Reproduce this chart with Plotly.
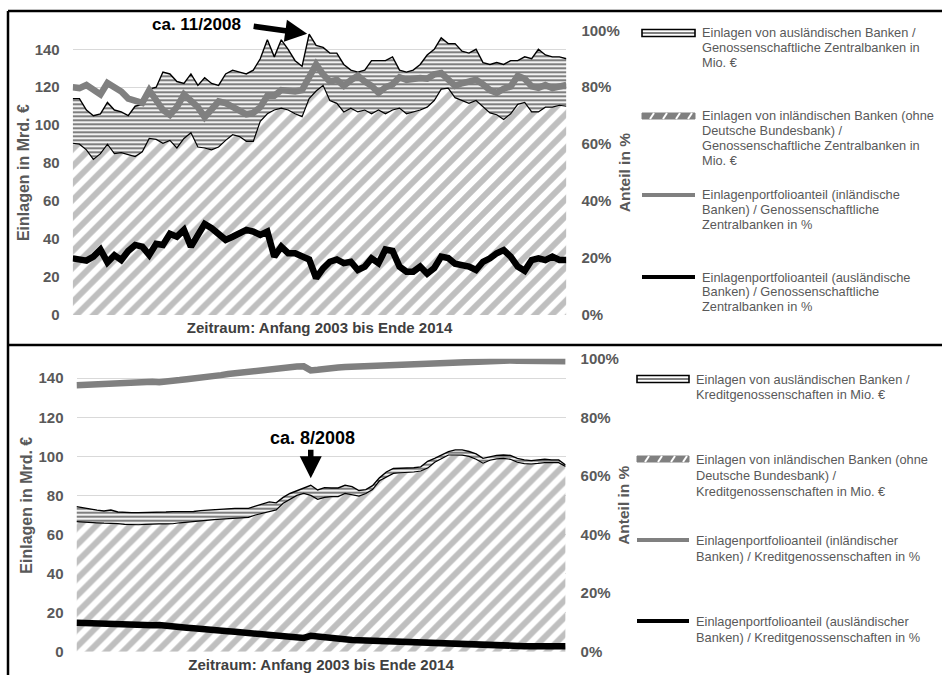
"""Einlagen Genossenschaftliche Zentralbanken / Kreditgenossenschaften, 2003-2014."""

import pandas as pd
import plotly.graph_objects as go

W, H = 942, 675
FONT = "Liberation Sans, Arial, sans-serif"
GREY_TXT = "#595959"
GREY_LINE = "#808080"

# bimonthly grid, Anfang 2003 bis Ende 2014
months = pd.date_range("2003-01-01", periods=72, freq="2MS")

# --- Genossenschaftliche Zentralbanken (Mrd. € / %) ---
gz_inland = [90.5, 90, 87, 82, 85, 90, 85, 85.5, 84.5, 83.5,
             86, 93, 92.5, 90.5, 92, 88, 93, 96, 88.5, 88,
             87, 88.5, 92, 95, 94, 91.5, 91.5, 102, 106, 108,
             109, 108, 106, 104.5, 114, 118, 121, 113, 111.5, 107,
             109, 107, 108, 106, 108, 106, 108, 109, 106, 107,
             108, 109.5, 113, 119, 119.5, 114.5, 113, 111.5, 113, 109.5,
             106.5, 105.5, 103, 106, 111, 112, 107, 107, 109.5, 109.5,
             110.5, 110]
gz_ausland = [23.5, 24, 21, 23, 21, 22, 23, 21.5, 20.5, 26.5,
              25, 26, 27.5, 37.5, 35, 35, 29, 31, 32.5, 37,
              35, 32.5, 35, 34, 34, 35.5, 37.5, 33, 39, 28,
              36, 32, 28, 26.5, 34, 24, 20, 25, 26.5, 25,
              20, 21, 21, 28, 26, 28, 28, 20, 22, 22,
              24, 27.5, 27, 27, 23.5, 28.5, 26, 26.5, 27, 23.5,
              25.5, 27.5, 29, 28, 23, 24, 28, 33, 27.5, 26.5,
              25.5, 25]
gz_anteil_inland = [80, 79.7, 80.8, 79, 77.5, 81.5, 80, 78.5, 76, 75,
                    74.5, 79, 75, 72, 70.3, 73, 77.5, 75, 73, 69.5,
                    72, 75, 74.4, 73, 72, 70.5, 71, 73, 77, 77,
                    79, 78.5, 78.5, 79, 84, 88, 84.5, 82, 82.6, 80.5,
                    82.5, 84, 82, 80.5, 78, 80, 81, 83.5, 82.6, 83,
                    83.2, 83, 84.5, 85, 83, 80.5, 81.4, 82, 82.6, 81,
                    79, 78, 79.5, 80.3, 84, 83, 80.3, 79.8, 80.8, 79.7,
                    80.3, 80.8]
gz_anteil_ausland = [19.9, 19.6, 19.1, 20.5, 23, 18.5, 21, 19.3, 22.5, 24.6,
                     24, 21.1, 25, 24.6, 28.5, 27.5, 29.9, 24, 28, 32,
                     30.5, 28.1, 26.4, 27.5, 28.7, 29.9, 29.3, 28.1, 29.3, 20.5,
                     24, 21.7, 21.7, 20.5, 19.5, 13, 16.4, 18.7, 19.5, 18.2,
                     18.7, 15.8, 17, 19.9, 18.2, 23, 22.5, 17, 15.2, 15.2,
                     17, 14.5, 16.5, 20.5, 20, 18, 17.6, 17, 15.8, 18.7,
                     19.9, 21.7, 22.8, 20.5, 17, 15.5, 19.3, 19.9, 19.3, 20.5,
                     19.3, 19.3]

# --- Kreditgenossenschaften (Mrd. € / %) ---
kg_inland = [66.6, 66.3, 66.2, 66, 65.8, 65.8, 65.6, 65.2, 65, 65,
             65.2, 65.4, 65.4, 65.4, 65.5, 66, 66.4, 66.7, 67, 67.3,
             67.6, 67.9, 68.2, 68.5, 68.7, 68.8, 70, 70.8, 71.8, 72.6,
             76, 78, 80, 81, 80, 78, 79, 79.4, 79.4, 81,
             80.5, 79.7, 81, 83, 87.5, 89.5, 91.3, 91.6, 91.7, 92,
             92.5, 94, 97, 99, 100.7, 100.7, 100.6, 100, 98.5, 96.5,
             98, 98.7, 99, 98.5, 97, 96.3, 96.1, 96.4, 96.8, 96.8,
             96.8, 94.8]
kg_ausland = [7.7, 7.3, 7.0, 6.5, 6.2, 6.7, 5.9, 6.0, 6.2, 6.2,
              6.0, 5.8, 5.9, 6.1, 6.2, 5.7, 5.3, 5.1, 5.2, 5.2,
              5.2, 5.1, 5.1, 4.9, 4.7, 4.6, 4.5, 4.7, 4.9, 3.6,
              3.0, 3.0, 2.5, 3.0, 5.2, 4.8, 5.0, 4.4, 4.4, 4.2,
              4.0, 2.8, 2.0, 2.0, 1.5, 2.5, 2.5, 2.3, 2.3, 2.2,
              2.1, 3.5, 2.0, 1.5, 1.7, 2.6, 2.7, 2.5, 2.8, 2.5,
              1.8, 1.8, 1.7, 2.0, 2.0, 1.9, 1.7, 1.6, 1.7, 1.4,
              1.4, 0.8]
kg_anteil_inland = [90.9, 91.0, 91.2, 91.4, 91.6, 91.8, 92.0, 92.0, 92.1, 92.2,
                    92.2, 92.1, 92.0, 92.1, 92.4, 92.7, 93.0, 93.2, 93.5, 93.8,
                    94.1, 94.4, 94.8, 95.1, 95.4, 95.7, 96.0, 96.3, 96.6, 96.8,
                    97.0, 97.2, 97.3, 97.4, 96.0, 96.2, 96.6, 96.8, 97.0, 97.2,
                    97.3, 97.4, 97.5, 97.6, 97.8, 97.9, 98.0, 98.1, 98.2, 98.3,
                    98.5, 98.6, 98.7, 98.8, 99.0, 99.1, 99.2, 99.2, 99.3, 99.3,
                    99.4, 99.4, 99.4, 99.4, 99.3, 99.2, 99.1, 99.1, 99.1, 99.1,
                    99.1, 99.1]
kg_anteil_ausland = [9.9, 9.8, 9.6, 9.5, 9.3, 9.2, 9.1, 9.0, 8.9, 8.8,
                     8.9, 9.0, 9.1, 9.0, 8.8, 8.5, 8.2, 8.0, 7.9, 7.8,
                     7.6, 7.3, 7.0, 6.8, 6.6, 6.4, 6.2, 6.0, 5.8, 5.6,
                     5.3, 5.1, 4.9, 4.7, 5.4, 5.1, 4.8, 4.6, 4.2, 4.0,
                     4.0, 3.9, 3.8, 3.7, 3.5, 3.4, 3.4, 3.4, 3.4, 3.3,
                     3.1, 3.0, 2.8, 2.6, 2.5, 2.4, 2.3, 2.2, 2.1, 2.1,
                     2.0, 1.9, 1.9, 1.9, 1.9, 1.9, 1.9, 1.9, 1.9, 1.9,
                     1.9, 1.9]

TOP_LEGEND = [
    ("ausland", 33, ["Einlagen von ausländischen Banken /",
                     "Genossenschaftliche Zentralbanken in", "Mio. €"]),
    ("inland", 116, ["Einlagen von inländischen Banken (ohne",
                     "Deutsche Bundesbank) /",
                     "Genossenschaftliche Zentralbanken in", "Mio. €"]),
    ("anteil_inland", 195, ["Einlagenportfolioanteil (inländische",
                            "Banken) / Genossenschaftliche",
                            "Zentralbanken in %"]),
    ("anteil_ausland", 277, ["Einlagenportfolioanteil (ausländische",
                             "Banken) / Genossenschaftliche",
                             "Zentralbanken in %"]),
]
BOTTOM_LEGEND = [
    ("ausland", 379, ["Einlagen von ausländischen Banken /",
                      "Kreditgenossenschaften in Mio. €"]),
    ("inland", 459, ["Einlagen von inländischen Banken (ohne",
                     "Deutsche Bundesbank) /",
                     "Kreditgenossenschaften in Mio. €"]),
    ("anteil_inland", 540, ["Einlagenportfolioanteil (inländischer",
                            "Banken) / Kreditgenossenschaften in %"]),
    ("anteil_ausland", 621, ["Einlagenportfolioanteil (ausländischer",
                             "Banken) / Kreditgenossenschaften in %"]),
]


def pxx(x):
    return x / W


def pxy(y):
    return 1 - y / H


def add_panel(fig, xa, ya, ya2, inland, ausland, anteil_in, anteil_aus, group):
    fig.add_trace(go.Scatter(
        x=months, y=inland, xaxis=xa, yaxis=ya, stackgroup=group,
        mode="lines", line=dict(color="black", width=1.2),
        fillpattern=dict(shape="/", fgcolor=GREY_LINE, bgcolor="white",
                         size=12, solidity=0.5),
        hoverinfo="skip"))
    fig.add_trace(go.Scatter(
        x=months, y=ausland, xaxis=xa, yaxis=ya, stackgroup=group,
        mode="lines", line=dict(color="black", width=1.4),
        fillpattern=dict(shape="-", fgcolor="black", bgcolor="white",
                         size=4, solidity=0.55),
        hoverinfo="skip"))
    fig.add_trace(go.Scatter(
        x=months, y=anteil_in, xaxis=xa, yaxis=ya2, mode="lines",
        line=dict(color=GREY_LINE, width=6.5), hoverinfo="skip"))
    fig.add_trace(go.Scatter(
        x=months, y=anteil_aus, xaxis=xa, yaxis=ya2, mode="lines",
        line=dict(color="black", width=6.5), hoverinfo="skip"))


def add_legend(fig, entries, x0, x1, tx, step):
    for kind, y, lines in entries:
        if kind == "ausland":
            fig.add_shape(type="rect", xref="paper", yref="paper",
                          x0=pxx(x0), x1=pxx(x1), y0=pxy(y + 3.5), y1=pxy(y - 3.5),
                          line=dict(color="black", width=1.6), fillcolor="white")
            fig.add_shape(type="line", xref="paper", yref="paper",
                          x0=pxx(x0), x1=pxx(x1), y0=pxy(y), y1=pxy(y),
                          line=dict(color="black", width=1))
        elif kind == "inland":
            fig.add_shape(type="rect", xref="paper", yref="paper",
                          x0=pxx(x0), x1=pxx(x1), y0=pxy(y + 3), y1=pxy(y - 3),
                          line=dict(color=GREY_LINE, width=1), fillcolor=GREY_LINE)
            for off in (8, 21, 34, 46):
                fig.add_shape(type="line", xref="paper", yref="paper",
                              x0=pxx(x0 + off), x1=pxx(x0 + off + 4),
                              y0=pxy(y + 3), y1=pxy(y - 3),
                              line=dict(color="white", width=2))
        else:
            col = GREY_LINE if kind == "anteil_inland" else "black"
            fig.add_shape(type="line", xref="paper", yref="paper",
                          x0=pxx(x0), x1=pxx(x1), y0=pxy(y), y1=pxy(y),
                          line=dict(color=col, width=4))
        for i, txt in enumerate(lines):
            fig.add_annotation(xref="paper", yref="paper", x=pxx(tx),
                               y=pxy(y + i * step), text=txt, showarrow=False,
                               xanchor="left", yanchor="middle",
                               font=dict(family=FONT, size=12.8, color=GREY_TXT))


fig = go.Figure()
add_panel(fig, "x", "y", "y2", gz_inland, gz_ausland,
          gz_anteil_inland, gz_anteil_ausland, "gz")
add_panel(fig, "x2", "y3", "y4", kg_inland, kg_ausland,
          kg_anteil_inland, kg_anteil_ausland, "kg")

tick_font = dict(family=FONT, size=15, color=GREY_TXT, weight="bold")

x_common = dict(showticklabels=False, showgrid=False, zeroline=False,
                showline=False, ticks="", range=[months[0], months[-1]],
                automargin=False,
                title=dict(text="Zeitraum: Anfang 2003 bis Ende 2014",
                           font=dict(family=FONT, size=15, color="#404040",
                                     weight="bold"), standoff=7))
y_left = dict(range=[0, 150], dtick=20, gridcolor="#d9d9d9", gridwidth=1,
              zeroline=False, showline=False, tickfont=tick_font,
              ticklabelstandoff=12, automargin=False,
              title=dict(text="Einlagen in Mrd. €", standoff=1,
                         font=dict(family=FONT, size=16, color=GREY_TXT,
                                   weight="bold")))
y_right = dict(range=[0, 100], dtick=20, ticksuffix="%", showgrid=False,
               zeroline=False, showline=False, side="right", tickfont=tick_font,
               ticklabelstandoff=14, automargin=False,
               title=dict(text="Anteil in %", standoff=0,
                          font=dict(family=FONT, size=15.5, color=GREY_TXT,
                                    weight="bold")))

fig.update_layout(
    width=W, height=H, autosize=False,
    margin=dict(l=0, r=0, t=0, b=0, pad=0),
    paper_bgcolor="white", plot_bgcolor="white",
    showlegend=False,
    font=dict(family=FONT, color=GREY_TXT),
    xaxis=dict(domain=[pxx(72.7), pxx(566.4)], anchor="y", **x_common),
    yaxis=dict(domain=[pxy(315), pxy(30.3)], anchor="x", **y_left),
    yaxis2=dict(overlaying="y", anchor="x", **y_right),
    xaxis2=dict(domain=[pxx(76.5), pxx(565.6)], anchor="y3", **x_common),
    yaxis3=dict(domain=[pxy(651.7), pxy(358.7)], anchor="x2", **y_left),
    yaxis4=dict(overlaying="y3", anchor="x2", **y_right),
)

# arrows pointing at the peaks
gz_total = [a + b for a, b in zip(gz_inland, gz_ausland)]
kg_total = [a + b for a, b in zip(kg_inland, kg_ausland)]
i_gz = max(range(len(gz_total)), key=lambda i: gz_total[i])
i_kg = max([i for i, m in enumerate(months) if m.year == 2008],
           key=lambda i: kg_total[i])

arrow = dict(text="", showarrow=True, arrowhead=2, arrowsize=0.8,
             arrowwidth=5.5, arrowcolor="black")
fig.add_annotation(x=months[i_gz], y=gz_total[i_gz], xref="x", yref="y",
                   ax=-57, ay=-8, standoff=2, **arrow)
fig.add_annotation(x=months[i_kg], y=kg_total[i_kg], xref="x2", yref="y3",
                   ax=0, ay=-37, standoff=7, **arrow)
fig.add_annotation(xref="paper", yref="paper", x=pxx(196), y=pxy(25),
                   xanchor="center", yanchor="middle",
                   text="ca. 11/2008", showarrow=False,
                   font=dict(family=FONT, size=17, color="black", weight="bold"))
fig.add_annotation(xref="paper", yref="paper", x=pxx(312), y=pxy(438),
                   xanchor="center", yanchor="middle",
                   text="ca. 8/2008", showarrow=False,
                   font=dict(family=FONT, size=18, color="black", weight="bold"))

add_legend(fig, TOP_LEGEND, 642, 695, 700, 14.7)
add_legend(fig, BOTTOM_LEGEND, 637, 689, 694, 16)

# panel frames
for x0, y0, x1, y1 in [(8, 11, W, 11), (8, 11, 8, H), (8, 345, W, 345)]:
    fig.add_shape(type="line", xref="paper", yref="paper",
                  x0=pxx(x0), y0=pxy(y0), x1=pxx(x1), y1=pxy(y1),
                  line=dict(color="black", width=2.5))

# page body margin would shift the fixed-size figure by 8 px
fig.write_html("out.html", config={"displayModeBar": False},
               post_script="document.body.style.margin='0';"
                           "document.body.style.overflow='hidden';")
